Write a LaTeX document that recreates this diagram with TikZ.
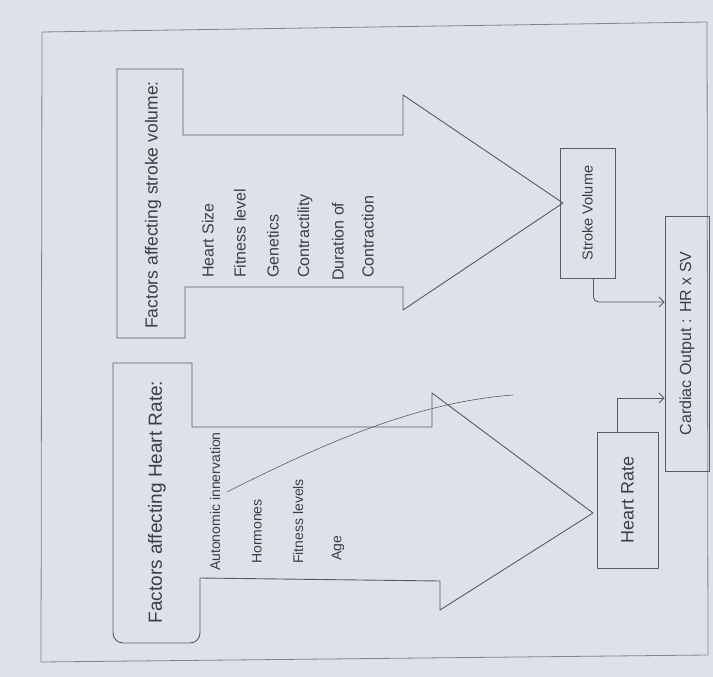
\documentclass[tikz,border=0pt]{standalone}
\usepackage{fontspec}
\setmainfont{Liberation Sans}
\usepackage{graphicx}
\usetikzlibrary{arrows.meta}
\definecolor{paper}{HTML}{DDE1EA}
\definecolor{pencil}{HTML}{565B66}
\definecolor{ink}{HTML}{3A3E48}
\definecolor{framec}{HTML}{7E8490}
\begin{document}
\begin{tikzpicture}[x=1pt,y=-1pt,
  pen/.style={draw=pencil, line width=0.9pt, line join=round},
  box/.style={pen, inner sep=0pt, text=ink},
  lbl/.style={text=ink, inner sep=0pt, rotate=90, anchor=west},
  ttl/.style={text=ink, inner sep=0pt, rotate=90},
  svi/.style={lbl, font=\fontsize{16}{18}\selectfont},
  hri/.style={lbl, font=\fontsize{14}{16}\selectfont},
  conn/.style={pen, -{Straight Barb[length=5pt,width=10pt]}}]
\fill[paper] (0,0) rectangle (713,677);
\useasboundingbox (0,0) rectangle (713,677);
% page frame
\draw[framec, line width=0.8pt] (42,32) -- (707,22) -- (708,655) -- (41,662) -- cycle;
% stroke volume block arrow
\draw[pen] (117,69) -- (183,69) -- (183,135) -- (403,135) -- (403,95) -- (563,203)
  -- (403,310) -- (403,287) -- (185,287) -- (185,338) -- (117,338) -- cycle;
% heart rate block arrow
\draw[pen] (113,363) -- (192,363) -- (192,427) -- (432,427) -- (432,393) -- (593,513)
  -- (440,610) -- (440,581) -- (200,578) [rounded corners=10pt] -- (200,643) -- (113,643) [sharp corners] -- cycle;
% titles
\node[ttl, font=\fontsize{17.5}{20}\selectfont] (svt) at (153,205) {Factors affecting stroke volume:};
\node[ttl, font=\fontsize{19}{22}\selectfont] (hrt) at (157,502) {Factors affecting Heart Rate:};
% stroke volume factors
\node[svi] (s1) at (208,278) {Heart Size};
\node[svi] (s2) at (240,278) {Fitness level};
\node[svi] (s3) at (273,278) {Genetics};
\node[svi] (s4) at (305,278) {Contractility};
\node[svi] (s5) at (338,281) {Duration of};
\node[svi] (s6) at (368,278) {Contraction};
% heart rate factors
\node[hri] (h1) at (215,571) {Autonomic innervation};
\node[hri] (h2) at (257,564) {Hormones};
\node[hri] (h3) at (298,564) {Fitness levels};
\node[hri] (h4) at (338,561) {Age};
% stray pencil line
\draw[pencil, line width=0.6pt] (227,492) .. controls (330,440) and (420,402) .. (513,395);
% result boxes
\node[box, minimum width=55, minimum height=130] (sv) at (587.5,213)
  {\rotatebox{90}{\fontsize{14.5}{16}\selectfont Stroke Volume}};
\node[box, minimum width=61, minimum height=136] (hr) at (627.5,500)
  {\rotatebox{90}{\fontsize{18}{20}\selectfont Heart Rate}};
\node[box, minimum width=44, minimum height=255] (co) at (687,343.5)
  {\rotatebox{90}{\fontsize{16}{18}\selectfont Cardiac Output : HR x SV}};
% connectors
\coordinate (c1) at (0,302);
\coordinate (c2) at (0,398);
\draw[conn, rounded corners=5pt] ([xshift=6pt]sv.south) |- (co.west |- c1);
\draw[conn] ([xshift=-10pt]hr.north) |- (co.west |- c2);
\end{tikzpicture}
\end{document}
